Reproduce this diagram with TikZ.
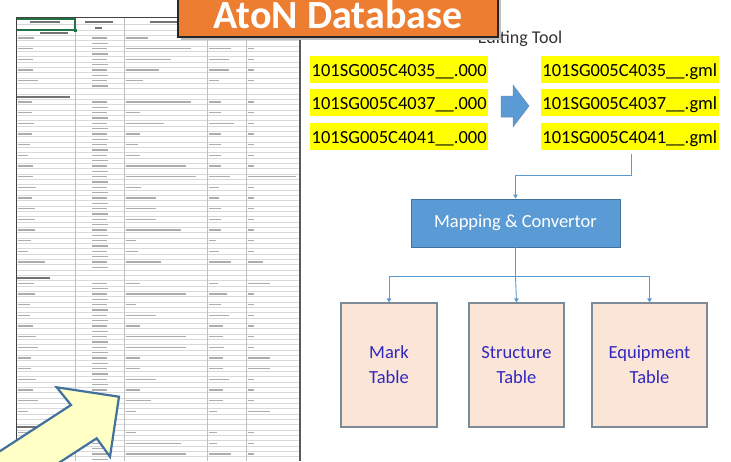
\documentclass[tikz,border=0pt]{standalone}
\usepackage{fontspec}
\setmainfont{Carlito}
\usetikzlibrary{arrows.meta}
\definecolor{orangeA}{HTML}{ED7D31}
\definecolor{hlyellow}{HTML}{FFFF00}
\definecolor{blueA}{HTML}{5B9BD5}
\definecolor{blueB}{HTML}{41719C}
\definecolor{tblfill}{HTML}{FBE5D6}
\definecolor{tblborder}{HTML}{7D8A98}
\definecolor{tbltext}{RGB}{48,40,190}
\definecolor{calloutfill}{HTML}{FFFFC6}
\definecolor{selgreen}{HTML}{217346}
\newcommand\sheetrow[5]{%
  \pgfmathsetmacro\yy{32.667+5.333*#1}%
  \pgfmathsetmacro\yb{\yy+5.333}%
  \fill[sheettxt] (18,\yy) ++(0,-0.8) rectangle ++(#2,1.6);
  \fill[sheettxt] (92,\yy) ++(0,-0.8) rectangle ++(15,1.6);
  \fill[sheettxt] (92,\yb) ++(0,-0.8) rectangle ++(16,1.6);
  \fill[sheettxt] (126,\yy) ++(0,-0.8) rectangle ++(#3,1.6);
  \fill[sheettxt] (209,\yy) ++(0,-0.8) rectangle ++(#4,1.6);
  \fill[sheettxt] (248,\yy) ++(0,-0.8) rectangle ++(#5,1.6);
}
\begin{document}
\begin{tikzpicture}[x=1pt,y=-1pt,
  sheettxt/.style={black!32},
  sheethead/.style={black!55},
  gridl/.style={draw=black!15,line width=0.5pt},
  coll/.style={draw=black!25,line width=0.6pt},
  hl/.style={fill=hlyellow,inner xsep=1.5pt,inner ysep=0pt,minimum height=27pt,
     text height=14pt,text depth=0pt,anchor=west,font=\fontsize{18.5}{22}\selectfont},
  titlebox/.style={fill=orangeA,draw=black!85,line width=1.3pt,minimum width=320pt,
     minimum height=52pt,inner sep=0pt},
  titletext/.style={inner sep=0pt,anchor=base,text=white,
     font=\fontsize{40}{44}\selectfont\bfseries},
  mapbox/.style={fill=blueA,draw=blueB,line width=0.9pt,minimum width=209pt,
     minimum height=48pt,inner sep=0pt,text=white,font=\fontsize{18.5}{22}\selectfont},
  tbl/.style={fill=tblfill,draw=tblborder,line width=1.1pt,minimum height=124pt,
     inner sep=0pt,align=center,text=tbltext,font=\fontsize{18.5}{25}\selectfont},
  conn/.style={draw=blueA,line width=0.9pt,-{Triangle[width=4.5pt,length=4pt]}},
  line/.style={draw=blueA,line width=0.9pt}]
\clip (0,0) rectangle (731,461);
\fill[white] (0,0) rectangle (731,461);
% ---------- spreadsheet ----------
\begin{scope}
\clip (16,17) rectangle (301,461);
\foreach \k in {0,...,81} \draw[gridl] (16,{30+5.333*\k}) -- (300,{30+5.333*\k});
\draw[gridl] (16,24) -- (300,24);
\foreach \x in {75,124,207,246} \draw[coll] (\x,17) -- (\x,461);
% header texts
\fill[sheethead] (30,21.2) rectangle (60,22.8);
\fill[sheethead] (85,21.2) rectangle (113,22.8);
\fill[sheethead] (95,27.2) rectangle (102,28.8);
\fill[sheethead] (150,21.2) rectangle (177,22.8);
% section headings
\foreach \k/\xa/\xb in {0/40/68, 12/17/70, 46/17/50, 74/17/40}
  \fill[sheethead] (\xa,{32.667+5.333*\k-0.9}) rectangle (\xb,{32.667+5.333*\k+0.9});
% entries
\foreach \k/\la/\lc/\ld/\le in {
 1/16/22/0/6, 3/15/65/22/6, 5/15/45/20/6, 7/15/33/20/6, 9/20/17/10/6,
 13/14/65/12/6, 15/14/14/12/6, 17/16/38/25/6, 19/14/14/12/6, 21/12/12/12/6,
 23/10/14/12/6, 25/15/60/12/6, 27/15/70/21/48, 29/18/15/10/6, 31/14/30/10/6,
 33/17/30/12/6, 35/17/30/12/6, 37/17/55/12/6, 39/13/10/7/6, 41/10/12/10/6,
 43/27/35/22/15,
 47/16/14/9/22, 49/17/60/18/6, 51/12/10/12/6, 53/12/30/20/6, 55/15/14/14/6,
 57/18/60/14/6, 59/20/60/15/6, 61/13/14/14/22, 63/13/14/14/22, 65/18/30/20/6,
 67/15/14/14/6, 69/20/25/14/6, 71/10/10/8/22,
 75/15/10/8/6, 77/15/55/8/6, 79/18/60/22/6}
 {\sheetrow{\k}{\la}{\lc}{\ld}{\le}}
\end{scope}
\draw[selgreen,line width=1.2pt] (16.5,19) rectangle (75,30);
\fill[selgreen] (73.5,28.5) rectangle (76.5,31.5);
\draw[black!75,line width=0.8pt] (16,461) -- (16,17) -- (300,17);
\draw[black!65,line width=1.6pt] (300,17) -- (300,461);
% ---------- callout arrow ----------
\filldraw[fill=calloutfill,draw=blueB,line width=2.2pt,line join=miter]
  (119,396.7) -- (110,456.7) -- (96.7,438.3) -- (-3.3,503.3) -- (-29,470)
  -- (71,405) -- (56.7,387.3) -- cycle;
% ---------- title ----------
\node[anchor=base,text=black!80,font=\fontsize{18}{22}\selectfont] (edit) at (520,43.5) {Editing Tool};
\fill[black!25] (181,-12) rectangle (501,40);
\node[titlebox] (tbox) at (338,11) {};
\node[titletext] (title) at (338,28.5) {AtoN Database};
% ---------- files ----------
\node[hl] (s1) at (310,69.3) {101SG005C4035\_\_.000};
\node[hl] (s2) at (310,102.8) {101SG005C4037\_\_.000};
\node[hl] (s3) at (310,136.3) {101SG005C4041\_\_.000};
\node[hl] (g1) at (540.7,69.3) {101SG005C4035\_\_.gml};
\node[hl] (g2) at (540.7,102.8) {101SG005C4037\_\_.gml};
\node[hl] (g3) at (540.7,136.3) {101SG005C4041\_\_.gml};
\filldraw[fill=blueA,draw=blueB!80,line width=0.5pt]
  (501,96) -- (513,96) -- (513,85) -- (529,106) -- (513,127) -- (513,117) -- (501,117) -- cycle;
% ---------- converter ----------
\node[mapbox] (map) at (515.5,223) {Mapping \& Convertor};
\node[tbl,minimum width=96pt] (mark) at (389,365) {Mark\\Table};
\node[tbl,minimum width=95pt] (struct) at (516.5,365) {Structure\\Table};
\node[tbl,minimum width=115pt] (equip) at (649.5,365) {Equipment\\Table};
\coordinate (top) at ([xshift=2pt,yshift=-3.5pt]g3.south);
\draw[conn] (top) -- ++(0,22) -| (map.north);
\coordinate (split) at ([yshift=-29pt]map.south);
\draw[line] (map.south) -- (split);
\draw[conn] (split) -| (mark.north);
\draw[conn] (split) -- (struct.north);
\draw[conn] (split) -| (equip.north);
\end{tikzpicture}
\end{document}
